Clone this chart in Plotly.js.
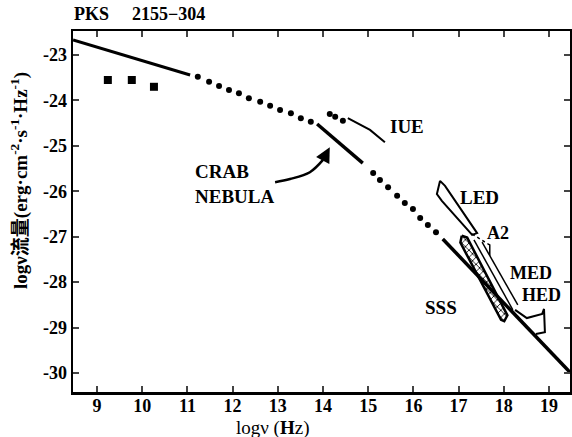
<!DOCTYPE html>
<html><head><meta charset="utf-8">
<script src="https://cdn.plot.ly/plotly-3.0.1.min.js"></script>
<style>body{margin:0;background:#fff}#c{width:572px;height:437px}</style>
</head><body><div id="c"></div>
<script>
// ---- data (log nu [Hz], log nu*F_nu) ----
const xTickVals = [9,10,11,12,13,14,15,16,17,18,19];
const xTickText = ['9','10','11','12','13','14','15','16','17','18','19'];
const yTickVals = [-23,-24,-25,-26,-27,-28,-29,-30];
const yTickText = ['-23','-24','-25','-26','-27','-28','-29','-30'];

const squaresX = [9.24, 9.77, 10.26];
const squaresY = [-23.55, -23.55, -23.70];

const radioX = [8.47, 11.06];
const radioY = [-22.67, -23.44];

const dots1X = [11.23,11.48,11.70,11.92,12.14,12.36,12.61,12.83,13.05,13.29,13.51,13.73];
const dots1Y = [-23.48,-23.59,-23.68,-23.77,-23.84,-23.95,-24.03,-24.12,-24.21,-24.28,-24.39,-24.47];

const crabX = [13.87, 14.88];
const crabY = [-24.52, -25.38];

const dots2X = [15.11,15.26,15.44,15.64,15.81,15.99,16.15,16.32,16.50];
const dots2Y = [-25.60,-25.75,-25.91,-26.10,-26.26,-26.39,-26.59,-26.74,-26.90];

const xrayX = [16.65, 19.46];
const xrayY = [-27.05, -29.98];

const iueDotX = [14.15, 14.27, 14.44];
const iueDotY = [-24.30, -24.36, -24.45];
const iueX = [14.55, 14.82, 15.04, 15.37];
const iueY = [-24.39, -24.54, -24.65, -24.92];

const ledX = [16.59,16.70,17.41,17.30,16.63,16.52,16.59];
const ledY = [-25.77,-25.88,-26.92,-26.96,-26.21,-26.06,-25.77];

const a2X = [17.30, 17.65];
const a2Y = [-26.94, -27.16];
const a2BracketX = [17.65, 17.69, 17.69];
const a2BracketY = [-27.16, -27.18, -27.42];

const med1X = [17.34, 18.20];
const med1Y = [-27.07, -28.61];
const med2X = [17.52, 18.31];
const med2Y = [-27.12, -28.50];

const hedX = [18.25,18.51,18.85,18.89,18.91,18.71];
const hedY = [-28.61,-28.79,-28.70,-28.59,-29.10,-29.14];

const sssX = [17.07,17.19,18.08,18.01,17.94,17.04,17.07];
const sssY = [-26.98,-27.02,-28.73,-28.86,-28.83,-27.13,-26.98];

const arrowX = [12.94, 13.27, 13.71, 14.00];
const arrowY = [-25.80, -25.73, -25.58, -25.31];
const arrowTip = [14.15, -25.03];

// ---- chart ----
const serif = 'Liberation Serif, DejaVu Serif, Noto Sans CJK SC, serif';
const line = (x, y, w, extra) => Object.assign({x, y, mode:'lines', line:{color:'#000', width:w}, hoverinfo:'skip'}, extra||{});
const bold = a => a.map(s => '<b>' + s + '</b>');

const traces = [
  line(radioX, radioY, 3),
  {x:squaresX, y:squaresY, mode:'markers', marker:{symbol:'square', size:8, color:'#000'}},
  {x:dots1X, y:dots1Y, mode:'markers', marker:{size:6, color:'#000'}},
  line(crabX, crabY, 3.5),
  {x:dots2X, y:dots2Y, mode:'markers', marker:{size:6, color:'#000'}},
  line(xrayX, xrayY, 3.5),
  {x:iueDotX, y:iueDotY, mode:'markers', marker:{size:6, color:'#000'}},
  line(iueX, iueY, 2),
  line(ledX, ledY, 2),
  line(a2X, a2Y, 1.5, {line:{color:'#000', width:1.5, dash:'dot'}}),
  line(a2BracketX, a2BracketY, 1.5),
  line(med1X, med1Y, 1.5),
  line(med2X, med2Y, 1.5),
  line(hedX, hedY, 2),
  {x:sssX, y:sssY, mode:'lines', fill:'toself', fillcolor:'rgba(255,255,255,0)',
   fillpattern:{shape:'x', fgcolor:'#000', size:5, solidity:0.3},
   line:{color:'#000', width:2.5}},
  line(arrowX, arrowY, 2.5, {line:{color:'#000', width:2.5, shape:'spline'}})
];

const ann = (text, x, y, size) => ({text:'<b>' + text + '</b>', x, y, xref:'x', yref:'y', showarrow:false,
  xanchor:'left', yanchor:'middle', align:'left', font:{family:serif, size:size||18, color:'#000'}});

const layout = {
  width:572, height:437,
  margin:{l:73, r:2, t:31, b:45},
  paper_bgcolor:'#fff', plot_bgcolor:'#fff',
  showlegend:false,
  font:{family:serif, size:14, color:'#000'},
  xaxis:{range:[8.469, 19.465], tickvals:xTickVals, ticktext:bold(xTickText), ticks:'inside', ticklen:6, tickwidth:2,
         showline:true, linewidth:2.5, linecolor:'#000', mirror:'ticks', showgrid:false, zeroline:false,
         ticklabelstandoff:-4, tickfont:{family:serif, size:18, color:'#000'}},
  yaxis:{range:[-30.418, -22.472], tickvals:yTickVals, ticktext:bold(yTickText), ticks:'inside', ticklen:6, tickwidth:2,
         showline:true, linewidth:2.5, linecolor:'#000', mirror:'ticks', showgrid:false, zeroline:false,
         tickfont:{family:serif, size:18, color:'#000'}},
  annotations:[
    {text:'<b>PKS</b>', xref:'paper', yref:'paper', x:-0.002, y:1.047, xanchor:'left', yanchor:'middle', showarrow:false,
     font:{family:serif, size:18, color:'#000'}},
    {text:'<b>2155−304</b>', xref:'paper', yref:'paper', x:0.1147, y:1.047, xanchor:'left', yanchor:'middle', showarrow:false,
     font:{family:serif, size:18, color:'#000'}},
    {text:'logν (<b>H</b>z)', xref:'paper', yref:'paper', x:0.402, y:-0.0997, xanchor:'center', yanchor:'middle', showarrow:false,
     font:{family:serif, size:19, color:'#000'}},
    {text:'<b>logν流量(erg·cm<sup>-2</sup>·s<sup>-1</sup>·Hz<sup>-1</sup>)</b>', xref:'paper', yref:'paper', x:-0.109, y:0.587,
     xanchor:'center', yanchor:'middle', textangle:-90, showarrow:false, font:{family:serif, size:19, color:'#000'}},
    ann('IUE', 15.44, -24.58, 19),
    ann('CRAB<br>NEBULA', 11.12, -25.83, 19),
    ann('LED', 16.99, -26.13, 19),
    ann('A2', 17.58, -26.92, 18),
    ann('MED', 18.09, -27.80, 18),
    ann('HED', 18.36, -28.28, 18),
    ann('SSS', 16.21, -28.55, 19),
    {x:arrowTip[0], y:arrowTip[1], ax:arrowX[3], ay:arrowY[3], xref:'x', yref:'y', axref:'x', ayref:'y',
     text:'', showarrow:true, arrowhead:2, arrowsize:1.2, arrowwidth:2.5, arrowcolor:'#000'}
  ]
};

Plotly.newPlot('c', traces, layout, {staticPlot:true, displayModeBar:false});
</script></body></html>
